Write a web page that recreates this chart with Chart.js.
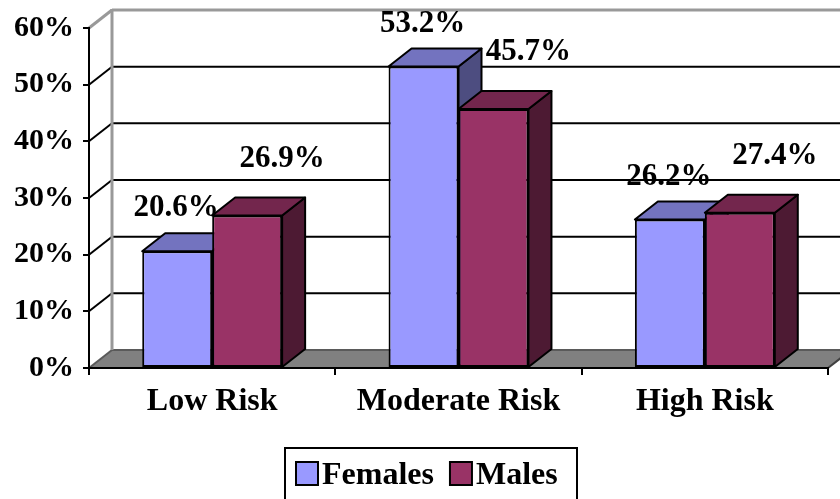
<!DOCTYPE html>
<html>
<head>
<meta charset="utf-8">
<script src="https://cdn.jsdelivr.net/npm/chart.js@4/dist/chart.umd.min.js"></script>
<style>
  html, body { margin: 0; padding: 0; background: #ffffff; }
  #wrap { width: 840px; height: 499px; position: relative; }
</style>
</head>
<body>
<div id="wrap"><canvas id="c" width="840" height="499"></canvas></div>
<script>
// Risk categories and the share of each sex in them (percent)
const categories = ['Low Risk', 'Moderate Risk', 'High Risk'];
const females = [20.6, 53.2, 26.2];
const males = [26.9, 45.7, 27.4];
const seriesNames = ['Females', 'Males'];
const yTicks = [0, 10, 20, 30, 40, 50, 60];

const FONT = '"Liberation Serif", "Times New Roman", serif';
const DX = 23, DY = 18;           // depth offset of the 3-D box
const faces = [
  { front: '#9999FF', top: '#7373BF', side: '#4D4D80' },
  { front: '#993366', top: '#73264D', side: '#4D1A33' }
];
// label nudges per series, relative to the front top edge of each bar
const labelShift = [ { dx: -1, dy: -43 }, { dx: 35, dy: -57 } ];

function poly(ctx, pts, fill, stroke, lw) {
  ctx.beginPath();
  ctx.moveTo(pts[0][0], pts[0][1]);
  for (let i = 1; i < pts.length; i++) ctx.lineTo(pts[i][0], pts[i][1]);
  ctx.closePath();
  if (fill) { ctx.fillStyle = fill; ctx.fill(); }
  if (stroke) { ctx.strokeStyle = stroke; ctx.lineWidth = lw || 2; ctx.stroke(); }
}
function line(ctx, x1, y1, x2, y2, col, lw) {
  ctx.beginPath(); ctx.moveTo(x1, y1); ctx.lineTo(x2, y2);
  ctx.strokeStyle = col; ctx.lineWidth = lw; ctx.stroke();
}

// walls, floor and gridlines behind everything
const wallsPlugin = {
  id: 'walls',
  beforeDraw(chart) {
    const ctx = chart.ctx, y = chart.scales.y, x = chart.scales.x;
    const L = x.left, R = x.right, W = chart.width + 40;
    const top = y.getPixelForValue(60), bot = y.getPixelForValue(0);
    ctx.save();
    ctx.lineCap = 'butt';
    // floor
    poly(ctx, [[L, bot], [R, bot], [R + DX, bot - DY], [L + DX, bot - DY]], '#808080', null);
    line(ctx, L + DX, bot - DY, W, bot - DY, '#5a5a5a', 2);
    line(ctx, L, bot, L + DX, bot - DY, '#5a5a5a', 2);
    line(ctx, R, bot, R + DX, bot - DY, '#404040', 2);
    // gridlines on back and side wall
    yTicks.forEach(v => {
      if (v === 0 || v === 60) return;
      const py = y.getPixelForValue(v);
      line(ctx, L + DX, py - DY, W, py - DY, '#000000', 2);
      line(ctx, L, py, L + DX, py - DY, '#000000', 2);
    });
    // wall borders
    line(ctx, L + DX, top - DY, W, top - DY, '#999999', 3);
    line(ctx, L + DX, top - DY - 1, L + DX, bot - DY, '#999999', 3);
    line(ctx, L, top, L + DX, top - DY, '#999999', 3);
    ctx.restore();
  },
  beforeDatasetsDraw(chart) {
    const ctx = chart.ctx;
    ctx.save();
    ctx.lineJoin = 'round';
    chart.data.datasets.forEach((ds, di) => {
      const meta = chart.getDatasetMeta(di);
      meta.data.forEach(bar => {
        const l = bar.x - bar.width / 2, r = bar.x + bar.width / 2;
        const t = bar.y, b = bar.base;
        poly(ctx, [[r, t], [r + DX, t - DY], [r + DX, b - DY], [r, b]], faces[di].side, '#000000', 2);
        poly(ctx, [[l, t], [l + DX, t - DY], [r + DX, t - DY], [r, t]], faces[di].top, '#000000', 2);
      });
    });
    ctx.restore();
  },
  afterDatasetsDraw(chart) {
    const ctx = chart.ctx;
    ctx.save();
    ctx.font = 'bold 31px ' + FONT;
    ctx.fillStyle = '#000000';
    ctx.textAlign = 'center';
    ctx.textBaseline = 'middle';
    chart.data.datasets.forEach((ds, di) => {
      const meta = chart.getDatasetMeta(di);
      meta.data.forEach((bar, i) => {
        ctx.fillText(ds.data[i].toFixed(1) + '%', bar.x + labelShift[di].dx, bar.y + labelShift[di].dy);
      });
    });
    ctx.restore();
  },
  afterDraw(chart) {
    // framed legend under the axis
    const ctx = chart.ctx;
    ctx.save();
    const bx = 285, by = 448, bw = 292, bh = 60;
    ctx.strokeStyle = '#000000'; ctx.lineWidth = 2;
    ctx.strokeRect(bx, by, bw, bh);
    ctx.font = 'bold 32px ' + FONT;
    ctx.textBaseline = 'alphabetic';
    ctx.textAlign = 'left';
    let cx = bx + 11;
    chart.data.datasets.forEach((ds, di) => {
      ctx.fillStyle = faces[di].front;
      ctx.fillRect(cx, 462, 22, 23);
      ctx.strokeStyle = '#000000'; ctx.lineWidth = 2;
      ctx.strokeRect(cx, 462, 22, 23);
      ctx.fillStyle = '#000000';
      ctx.fillText(ds.label, cx + 26, 484);
      cx += 26 + ctx.measureText(ds.label).width + 16;
    });
    ctx.restore();
  }
};

new Chart(document.getElementById('c'), {
  type: 'bar',
  data: {
    labels: categories,
    datasets: [
      { label: seriesNames[0], data: females, backgroundColor: faces[0].front },
      { label: seriesNames[1], data: males, backgroundColor: faces[1].front }
    ]
  },
  options: {
    responsive: false,
    animation: false,
    devicePixelRatio: 1,
    layout: { padding: { left: 0, right: 12, top: 28, bottom: 0 } },
    datasets: {
      bar: {
        borderColor: '#000000', borderWidth: 2, borderSkipped: false,
        categoryPercentage: 0.568, barPercentage: 1.0
      }
    },
    plugins: { legend: { display: false }, tooltip: { enabled: false } },
    scales: {
      x: {
        afterFit(s) { s.height = 131; },
        grid: { display: true, drawOnChartArea: false, drawTicks: true, tickLength: 7, color: '#000000', lineWidth: 2, offset: true },
        border: { display: true, color: '#000000', width: 2 },
        ticks: { color: '#000000', padding: 8, font: { family: FONT, size: 32, weight: 'bold' } }
      },
      y: {
        min: 0, max: 60,
        afterFit(s) { s.width = 89; },
        afterBuildTicks(s) { s.ticks = yTicks.map(v => ({ value: v })); },
        grid: { display: true, drawOnChartArea: false, drawTicks: true, tickLength: 6, color: '#000000', lineWidth: 2 },
        border: { display: true, color: '#000000', width: 2 },
        ticks: { color: '#000000', padding: 9, font: { family: FONT, size: 30, weight: 'bold' }, callback: v => v + '%' }
      }
    }
  },
  plugins: [wallsPlugin]
});
</script>
</body>
</html>
